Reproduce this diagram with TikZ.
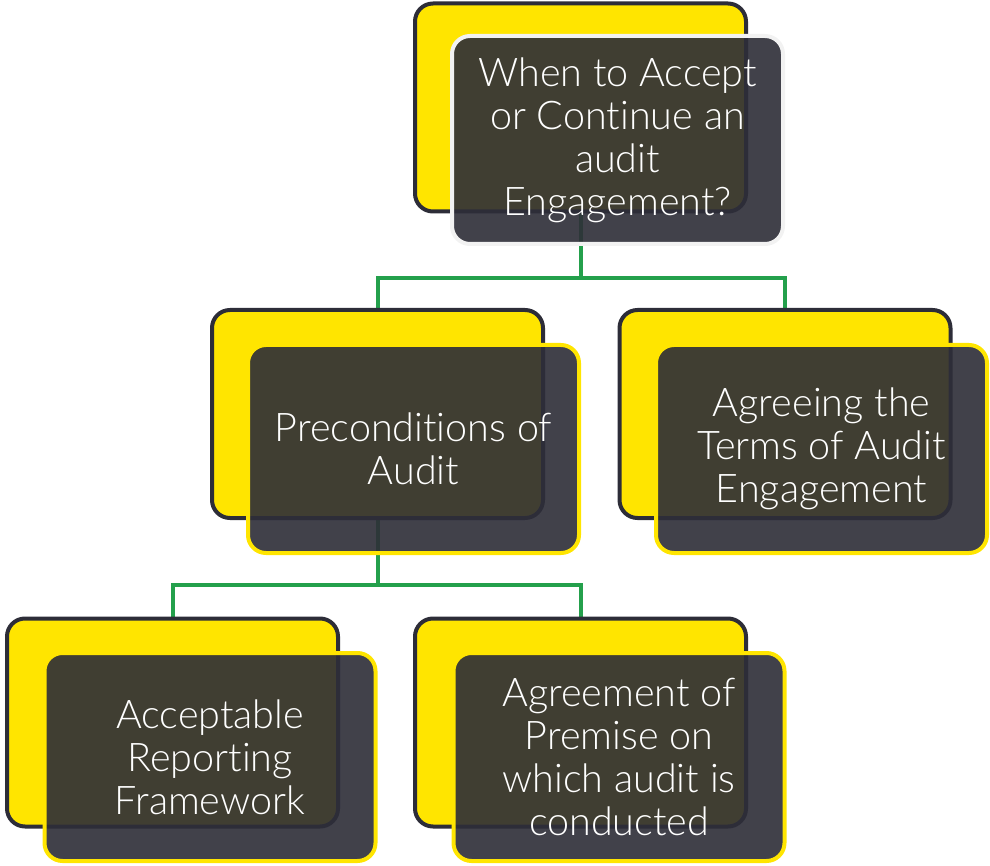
\documentclass[tikz,border=0pt]{standalone}
\usepackage{fontspec}
\setmainfont{Lato}[UprightFont=* Light, Ligatures={NoCommon,NoContextual},
    RawFeature=-liga, RawFeature=-clig, RawFeature=-dlig]
\usetikzlibrary{backgrounds}

\definecolor{boxyellow}{RGB}{255,229,0}
\definecolor{boxdark}{RGB}{46,46,56}
\definecolor{rimdark}{RGB}{45,45,56}
\definecolor{linkgreen}{RGB}{36,160,76}

\begin{document}
\begin{tikzpicture}[x=1pt, y=-1pt,
    back/.style={rectangle, rounded corners=18pt, draw=rimdark, line width=4pt,
        fill=boxyellow, minimum width=331pt, minimum height=208pt},
    front/.style={rectangle, rounded corners=18pt, draw=boxyellow, line width=4pt,
        fill=boxdark, fill opacity=0.91, text opacity=1, text=white,
        minimum width=331pt, minimum height=208pt, align=center,
        font=\fontsize{39.5}{43}\selectfont},
    link/.style={draw=linkgreen, line width=4pt}
]
    \useasboundingbox (0,0) rectangle (990,866);
    \node[back] (qback) at (580.5,107.5) {};
    \node[back] (pback) at (377.5,414) {};
    \node[back] (tback) at (785,414) {};
    \node[back] (fback) at (172.5,722.5) {};
    \node[back] (aback) at (580.5,722.5) {};
    \node[front, draw=white!95!black] (q) at (617.5,140)
        {When to Accept\\or Cont\kern0pt inue an\\audit\\Engagement?};
    \node[front] (p) at (413.5,449) {Precondit\kern0pt ions of\\Audit};
    \node[front] (t) at (821.5,449) {Agreeing the\\Terms of Audit\\Engagement};
    \node[front] (f) at (210,757) {Acceptable\\Report\kern0pt ing\\Framework};
    \node[front] (a) at (619,757) {Agreement of\\Premise on\\which audit is\\conducted};
    \begin{scope}[on background layer]
        \draw[link] (qback.south) -- ++(0,65) -| (pback.north);
        \draw[link] (qback.south) -- ++(0,65) -| (tback.north);
        \draw[link] (pback.south) -- ++(0,65) -| (fback.north);
        \draw[link] (pback.south) -- ++(0,65) -| (aback.north);
    \end{scope}
\end{tikzpicture}
\end{document}
